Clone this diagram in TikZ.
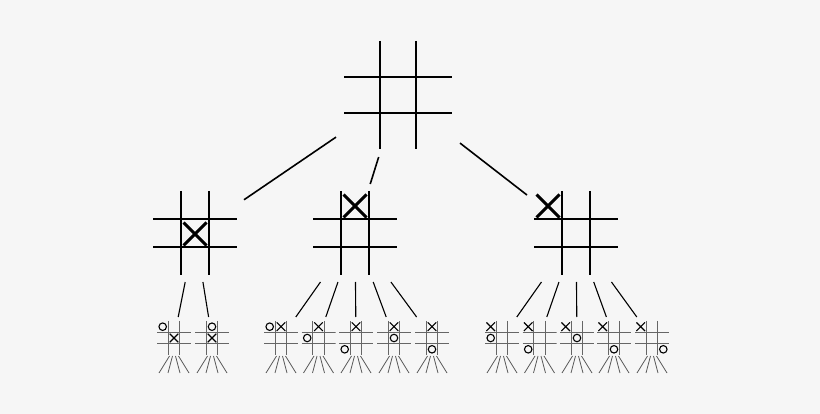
\documentclass[tikz,border=0pt]{standalone}
\usetikzlibrary{calc,shapes.misc}

\definecolor{bg}{RGB}{246,246,246}

\tikzset{
    board/.style n args={3}{shape=rectangle, minimum size=#1, inner sep=0pt, outer sep=#2,
        path picture={
            \foreach \t in {0.3333,0.6667} {
                \draw[#3] ($(path picture bounding box.north west)!\t!(path picture bounding box.north east)$) -- ($(path picture bounding box.south west)!\t!(path picture bounding box.south east)$);
                \draw[#3] ($(path picture bounding box.north west)!\t!(path picture bounding box.south west)$) -- ($(path picture bounding box.north east)!\t!(path picture bounding box.south east)$);
            }
        }},
    bigboard/.style={board={108pt}{8pt}{line width=1.7pt}},
    midboard/.style={board={84pt}{7pt}{line width=1.5pt}},
    smallboard/.style={board={34pt}{4pt}{line width=1.2pt, draw=black!60}},
    bigx/.style={cross out, draw, minimum size=20pt, inner sep=0pt, line width=3pt},
    smallx/.style={cross out, draw, minimum size=7.5pt, inner sep=0pt, line width=1.1pt},
    smallo/.style={circle, draw, minimum size=7.5pt, inner sep=0pt, line width=1.1pt},
}

\begin{document}
\begin{tikzpicture}[x=1pt, y=-1pt]

        \fill[bg] (0,0) rectangle (820,414);
        \useasboundingbox (0,0) rectangle (820,414);

        \node[bigboard] (A) at (398,95) {};

        \node[midboard] (B) at (195,233) {};
        \node[midboard] (C) at (355,233) {};
        \node[midboard] (D) at (576,233) {};

        \node[bigx] (Bx) at (195,234) {};
        \node[bigx] (Cx) at (355,206) {};
        \node[bigx] (Dx) at (548,206) {};

        \node[smallboard] (B1) at (174,338) {};
        \node[smallboard] (B2) at (212,338) {};
        \node[smallboard] (C1) at (281,338) {};
        \node[smallboard] (C2) at (318.5,338) {};
        \node[smallboard] (C3) at (356,338) {};
        \node[smallboard] (C4) at (394,338) {};
        \node[smallboard] (C5) at (432,338) {};
        \node[smallboard] (D1) at (502,338) {};
        \node[smallboard] (D2) at (539.5,338) {};
        \node[smallboard] (D3) at (577,338) {};
        \node[smallboard] (D4) at (614,338) {};
        \node[smallboard] (D5) at (652,338) {};

        \node[smallx] (B1x) at (174,338) {};
        \node[smallo] (B1o) at (162.7,326.7) {};
        \node[smallx] (B2x) at (212,338) {};
        \node[smallo] (B2o) at (212,326.7) {};

        \node[smallx] (C1x) at (281,326.7) {};
        \node[smallo] (C1o) at (269.7,326.7) {};
        \node[smallx] (C2x) at (318.5,326.7) {};
        \node[smallo] (C2o) at (307.2,338) {};
        \node[smallx] (C3x) at (356,326.7) {};
        \node[smallo] (C3o) at (344.7,349.3) {};
        \node[smallx] (C4x) at (394,326.7) {};
        \node[smallo] (C4o) at (394,338) {};
        \node[smallx] (C5x) at (432,326.7) {};
        \node[smallo] (C5o) at (432,349.3) {};

        \node[smallx] (D1x) at (490.7,326.7) {};
        \node[smallo] (D1o) at (490.7,338) {};
        \node[smallx] (D2x) at (528.2,326.7) {};
        \node[smallo] (D2o) at (528.2,349.3) {};
        \node[smallx] (D3x) at (565.7,326.7) {};
        \node[smallo] (D3o) at (577,338) {};
        \node[smallx] (D4x) at (602.7,326.7) {};
        \node[smallo] (D4o) at (614,349.3) {};
        \node[smallx] (D5x) at (640.7,326.7) {};
        \node[smallo] (D5o) at (663.3,349.3) {};

    \begin{scope}[every edge/.style={draw=black, line width=1.6pt}]

        \draw (A) edge (B);
        \draw (A) edge (C);
        \draw (A) edge (D);

    \end{scope}

    \begin{scope}[every edge/.style={draw=black, line width=1.1pt}]

        \draw (B) edge (B1);
        \draw (B) edge (B2);
        \draw (C) edge (C1);
        \draw (C) edge (C2);
        \draw (C) edge (C3);
        \draw (C) edge (C4);
        \draw (C) edge (C5);
        \draw (D) edge (D1);
        \draw (D) edge (D2);
        \draw (D) edge (D3);
        \draw (D) edge (D4);
        \draw (D) edge (D5);

    \end{scope}

        \foreach \n in {B1,B2,C1,C2,C3,C4,C5,D1,D2,D3,D4,D5}
            \foreach \a/\b in {-4.5/-10.5,-1.5/-4.5,1.5/4.5,4.5/10.5}
                \draw[black!65, line width=0.8pt] ([xshift=\a pt, yshift=3pt]\n.south) -- ++(\b,17);

\end{tikzpicture}
\end{document}
